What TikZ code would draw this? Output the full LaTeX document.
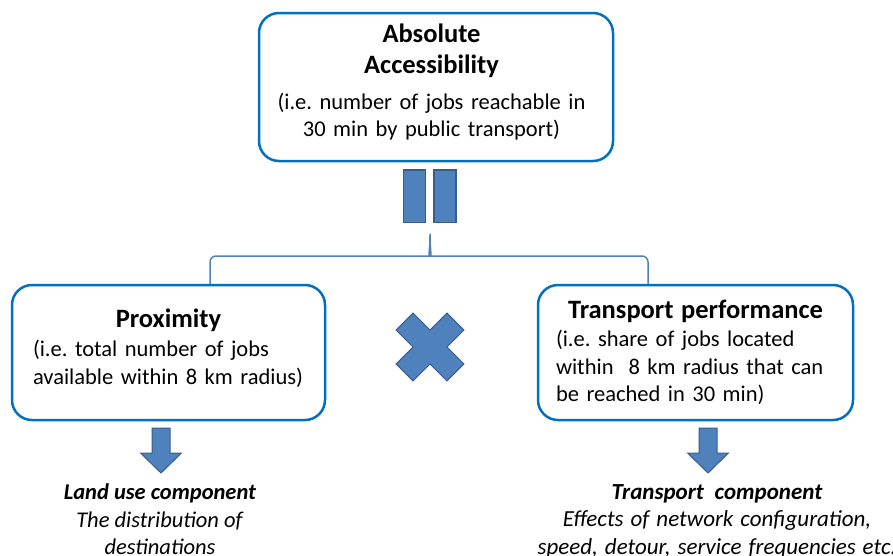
\documentclass[tikz,border=0pt]{standalone}
\usepackage{fontspec}
\setmainfont{Carlito}
\usetikzlibrary{positioning}
\definecolor{boxblue}{RGB}{0,112,192}
\definecolor{shapeblue}{RGB}{79,129,189}
\definecolor{shapeedge}{RGB}{56,93,138}
\newcommand{\bodysize}{\fontsize{22.5}{27.5}\selectfont}
\newcommand{\headsize}{\fontsize{26.5}{31}\selectfont}
\newcommand{\widesize}{\fontsize{23}{27.5}\selectfont\spaceskip=7pt plus 1pt\relax}
\newcommand{\lift}[1]{\par\vspace{#1}\hrule height 0pt}
\tikzset{
  box/.style={rectangle, rounded corners=20pt, draw=boxblue, line width=2.5pt, fill=white, inner sep=0pt},
  bar/.style={rectangle, draw=shapeedge, line width=1.5pt, fill=shapeblue, minimum width=22pt, minimum height=52.5pt, inner sep=0pt},
  blockarrow/.style={draw=shapeedge, fill=shapeblue, line width=1pt},
  bracket/.style={draw=shapeblue, line width=1.5pt, rounded corners=6pt},
  crossshape/.style={draw=shapeedge, fill=shapeblue, line width=1pt},
  component/.style={inner sep=0pt, align=center},
}

\begin{document}
\begin{tikzpicture}[x=1pt, y=-1pt, font=\bodysize]
  \useasboundingbox (0,0) rectangle (893,555);

  % Boxes
  \node[box, minimum width=354pt, minimum height=148pt, text width=330pt, align=center] (abs) at (436,87) {\leftskip=-4.5pt plus 1fil\rightskip=4.5pt plus 1fil\relax{\headsize\bfseries Absolute\\Accessibility\par}\vspace{8pt}(i.e.\ number of jobs reachable in\\30 min by public transport)\lift{9pt}};

  \node[box, minimum width=313pt, minimum height=135pt, text width=271pt, align=left] (prox) at (168.5,352.5) {{\centering\headsize\bfseries Proximity\par}\vspace{1.5pt}(i.e.\ total number of jobs\\available within 8 km radius)\lift{8pt}};

  \node[box, minimum width=315pt, minimum height=135pt, text width=279pt, align=left] (perf) at (695.5,352.5) {{\centering\headsize\bfseries Transport performance\par}\vspace{1pt}(i.e.\ share of jobs located\\within\ \ 8 km radius that can\\be reached in 30 min)};

  % Equals sign
  \node[bar] (barl) at (414.5,196) {};
  \node[bar] (barr) at (445,196) {};

  % Bracket below equals sign
  \draw[bracket] (210,284) -- (210,256) -- (424,256) .. controls (428,256) and (430,250) .. (430,230) .. controls (430,250) and (432,256) .. (436,256) -- (648,256) -- (648,284);

  % Times sign
  \begin{scope}[shift={(430,347)}, rotate=45]
    \draw[crossshape] (-12,-36) -- (12,-36) -- (12,-12) -- (36,-12) -- (36,12) -- (12,12) -- (12,36) -- (-12,36) -- (-12,12) -- (-36,12) -- (-36,-12) -- (-12,-12) -- cycle;
  \end{scope}

  % Arrows to components
  \coordinate (landtop) at (161,428);
  \coordinate (transtop) at (708,428);
  \draw[blockarrow, shift={(landtop)}] (-9,0) -- (9,0) -- (9,25) -- (20.5,25) -- (0,45) -- (-20.5,25) -- (-9,25) -- cycle;
  \draw[blockarrow, shift={(transtop)}] (-9,0) -- (9,0) -- (9,25) -- (20.5,25) -- (0,45) -- (-20.5,25) -- (-9,25) -- cycle;
  \coordinate (landtip) at (161,473);
  \coordinate (transtip) at (708,473);

  \node[component, below=11pt of landtip, xshift=-1pt] (landtext) {\textbf{\textit{Land use component}}\\\textit{The distribution of}\\\textit{destinations}};
  \node[component, below=11pt of transtip, xshift=9pt, font=\widesize] (transtext) {\textbf{\textit{Transport \,component}}\\\textit{Effects of network configuration,}\\\textit{speed, detour, service frequencies etc.}};
\end{tikzpicture}
\end{document}
